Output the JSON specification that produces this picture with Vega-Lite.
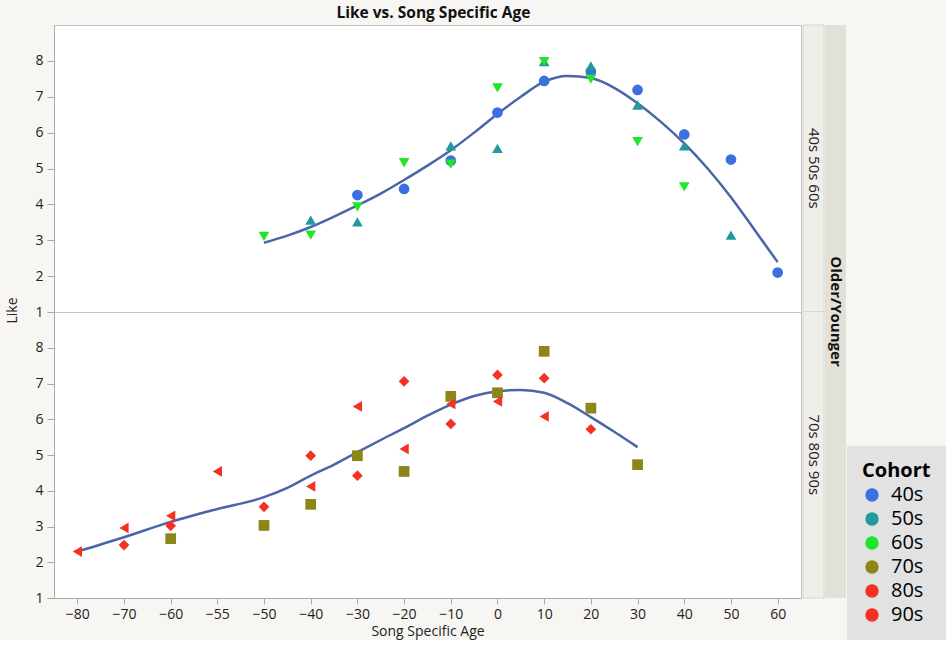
{
  "$schema": "https://vega.github.io/schema/vega-lite/v6.json",
  "background": "#f7f6f2",
  "padding": {"left": 5, "top": 6, "right": 0, "bottom": 0},
  "title": {"text": "Like vs. Song Specific Age", "fontSize": 15.5, "font": "Open Sans", "fontWeight": "bold", "color": "#111", "anchor": "start", "dx": 331, "offset": 3},
  "config": {
    "font": "Open Sans",
    "view": {"stroke": "#cccccc"},
    "axis": {"domainColor": "#a9a9a9", "tickColor": "#a9a9a9", "labelFontSize": 14, "labelColor": "#222", "titleFontSize": 14, "titleFontWeight": "normal", "titleColor": "#222", "grid": false, "tickSize": 6, "labelFont": "Open Sans", "titleFont": "Open Sans"}
  },
  "datasets": {
    "points": [
      {"group": "Older", "cohort": "40s", "age": -30, "like": 4.26},
      {"group": "Older", "cohort": "40s", "age": -20, "like": 4.43},
      {"group": "Older", "cohort": "40s", "age": -10, "like": 5.22},
      {"group": "Older", "cohort": "40s", "age": 0, "like": 6.56},
      {"group": "Older", "cohort": "40s", "age": 10, "like": 7.44},
      {"group": "Older", "cohort": "40s", "age": 20, "like": 7.70},
      {"group": "Older", "cohort": "40s", "age": 30, "like": 7.19},
      {"group": "Older", "cohort": "40s", "age": 40, "like": 5.95},
      {"group": "Older", "cohort": "40s", "age": 50, "like": 5.25},
      {"group": "Older", "cohort": "40s", "age": 60, "like": 2.10},
      {"group": "Older", "cohort": "50s", "age": -40, "like": 3.56},
      {"group": "Older", "cohort": "50s", "age": -30, "like": 3.51},
      {"group": "Older", "cohort": "50s", "age": -10, "like": 5.63},
      {"group": "Older", "cohort": "50s", "age": 0, "like": 5.56},
      {"group": "Older", "cohort": "50s", "age": 10, "like": 7.98},
      {"group": "Older", "cohort": "50s", "age": 20, "like": 7.86},
      {"group": "Older", "cohort": "50s", "age": 30, "like": 6.77},
      {"group": "Older", "cohort": "50s", "age": 40, "like": 5.63},
      {"group": "Older", "cohort": "50s", "age": 50, "like": 3.14},
      {"group": "Older", "cohort": "60s", "age": -50, "like": 3.11},
      {"group": "Older", "cohort": "60s", "age": -40, "like": 3.14},
      {"group": "Older", "cohort": "60s", "age": -30, "like": 3.93},
      {"group": "Older", "cohort": "60s", "age": -20, "like": 5.16},
      {"group": "Older", "cohort": "60s", "age": -10, "like": 5.12},
      {"group": "Older", "cohort": "60s", "age": 0, "like": 7.25},
      {"group": "Older", "cohort": "60s", "age": 10, "like": 7.98},
      {"group": "Older", "cohort": "60s", "age": 20, "like": 7.49},
      {"group": "Older", "cohort": "60s", "age": 30, "like": 5.75},
      {"group": "Older", "cohort": "60s", "age": 40, "like": 4.49},
      {"group": "Younger", "cohort": "70s", "age": -60, "like": 2.66},
      {"group": "Younger", "cohort": "70s", "age": -50, "like": 3.03},
      {"group": "Younger", "cohort": "70s", "age": -40, "like": 3.62},
      {"group": "Younger", "cohort": "70s", "age": -30, "like": 4.98},
      {"group": "Younger", "cohort": "70s", "age": -20, "like": 4.54},
      {"group": "Younger", "cohort": "70s", "age": -10, "like": 6.64},
      {"group": "Younger", "cohort": "70s", "age": 0, "like": 6.74},
      {"group": "Younger", "cohort": "70s", "age": 10, "like": 7.90},
      {"group": "Younger", "cohort": "70s", "age": 20, "like": 6.31},
      {"group": "Younger", "cohort": "70s", "age": 30, "like": 4.73},
      {"group": "Younger", "cohort": "80s", "age": -70, "like": 2.48},
      {"group": "Younger", "cohort": "80s", "age": -60, "like": 3.02},
      {"group": "Younger", "cohort": "80s", "age": -50, "like": 3.55},
      {"group": "Younger", "cohort": "80s", "age": -40, "like": 4.98},
      {"group": "Younger", "cohort": "80s", "age": -30, "like": 4.42},
      {"group": "Younger", "cohort": "80s", "age": -20, "like": 7.06},
      {"group": "Younger", "cohort": "80s", "age": -10, "like": 5.87},
      {"group": "Younger", "cohort": "80s", "age": 0, "like": 7.24},
      {"group": "Younger", "cohort": "80s", "age": 10, "like": 7.15},
      {"group": "Younger", "cohort": "80s", "age": 20, "like": 5.72},
      {"group": "Younger", "cohort": "90s", "age": -80, "like": 2.30},
      {"group": "Younger", "cohort": "90s", "age": -70, "like": 2.96},
      {"group": "Younger", "cohort": "90s", "age": -60, "like": 3.30},
      {"group": "Younger", "cohort": "90s", "age": -55, "like": 4.54},
      {"group": "Younger", "cohort": "90s", "age": -40, "like": 4.12},
      {"group": "Younger", "cohort": "90s", "age": -30, "like": 6.36},
      {"group": "Younger", "cohort": "90s", "age": -20, "like": 5.17},
      {"group": "Younger", "cohort": "90s", "age": -10, "like": 6.43},
      {"group": "Younger", "cohort": "90s", "age": 0, "like": 6.50},
      {"group": "Younger", "cohort": "90s", "age": 10, "like": 6.08}
    ],
    "curve": [
      {"group": "Older", "age": -50, "like": 2.93},
      {"group": "Older", "age": -45, "like": 3.13},
      {"group": "Older", "age": -40, "like": 3.37},
      {"group": "Older", "age": -35, "like": 3.66},
      {"group": "Older", "age": -30, "like": 3.97},
      {"group": "Older", "age": -25, "like": 4.30},
      {"group": "Older", "age": -20, "like": 4.68},
      {"group": "Older", "age": -15, "like": 5.08},
      {"group": "Older", "age": -10, "like": 5.51},
      {"group": "Older", "age": -5, "like": 6.00},
      {"group": "Older", "age": 0, "like": 6.52},
      {"group": "Older", "age": 5, "like": 7.00},
      {"group": "Older", "age": 10, "like": 7.42},
      {"group": "Older", "age": 15, "like": 7.58},
      {"group": "Older", "age": 20, "like": 7.52},
      {"group": "Older", "age": 25, "like": 7.25},
      {"group": "Older", "age": 30, "like": 6.82},
      {"group": "Older", "age": 35, "like": 6.30},
      {"group": "Older", "age": 40, "like": 5.70},
      {"group": "Older", "age": 45, "like": 5.00},
      {"group": "Older", "age": 50, "like": 4.20},
      {"group": "Older", "age": 55, "like": 3.30},
      {"group": "Older", "age": 60, "like": 2.39},
      {"group": "Younger", "age": -80, "like": 2.30},
      {"group": "Younger", "age": -70, "like": 2.70},
      {"group": "Younger", "age": -60, "like": 3.13},
      {"group": "Younger", "age": -55, "like": 3.49},
      {"group": "Younger", "age": -50, "like": 3.82},
      {"group": "Younger", "age": -45, "like": 4.08},
      {"group": "Younger", "age": -40, "like": 4.42},
      {"group": "Younger", "age": -35, "like": 4.73},
      {"group": "Younger", "age": -30, "like": 5.08},
      {"group": "Younger", "age": -25, "like": 5.42},
      {"group": "Younger", "age": -20, "like": 5.75},
      {"group": "Younger", "age": -15, "like": 6.10},
      {"group": "Younger", "age": -10, "like": 6.41},
      {"group": "Younger", "age": -5, "like": 6.65},
      {"group": "Younger", "age": 0, "like": 6.78},
      {"group": "Younger", "age": 5, "like": 6.82},
      {"group": "Younger", "age": 10, "like": 6.74},
      {"group": "Younger", "age": 15, "like": 6.45},
      {"group": "Younger", "age": 20, "like": 6.06},
      {"group": "Younger", "age": 25, "like": 5.65},
      {"group": "Younger", "age": 30, "like": 5.22}
    ]
  },
  "hconcat": [
    {
      "vconcat": [
        {
          "width": 747,
          "height": 287,
          "view": {"fill": "white", "stroke": "#c4c4c4"},
          "layer": [
            {
              "data": {"name": "curve"},
              "transform": [{"filter": "datum.group === 'Older'"}],
              "mark": {"type": "line", "color": "#4a66a8", "strokeWidth": 2.5, "interpolate": "monotone"},
              "encoding": {
                "x": {"field": "age", "type": "quantitative", "scale": {"domain": [-85, -60, -55, -50, 65], "range": [0, 116.67, 163.33, 210, 747], "nice": false, "zero": false}, "axis": null},
                "y": {"field": "like", "type": "quantitative", "scale": {"domain": [1, 9], "nice": false, "zero": false}, "axis": {"values": [1, 2, 3, 4, 5, 6, 7, 8], "title": "Like", "titleOpacity": 0, "labelPadding": 4, "titlePadding": 15, "tickSize": 7}}
              }
            },
            {
              "data": {"name": "points"},
              "transform": [{"filter": "datum.group === 'Older'"}],
              "mark": {"type": "point", "filled": true, "opacity": 1, "size": 115},
              "encoding": {
                "x": {"field": "age", "type": "quantitative"},
                "y": {"field": "like", "type": "quantitative"},
                "color": {"field": "cohort", "type": "nominal", "scale": {"domain": ["40s", "50s", "60s", "70s", "80s", "90s"], "range": ["#3c6fe0", "#22999c", "#1ee62a", "#8c8518", "#f53222", "#f53222"]}, "legend": {"orient": "none", "legendX": 793, "legendY": 421, "title": "Cohort", "titleFontSize": 20, "titleFontWeight": "bold", "titleColor": "#000", "titlePadding": 4, "labelFontSize": 20, "labelColor": "#000", "symbolType": "circle", "symbolSize": 180, "symbolStrokeWidth": 0, "fillColor": "#e2e2e2", "padding": 15, "rowPadding": 4, "labelOffset": 9}},
                "shape": {"field": "cohort", "type": "nominal", "scale": {"domain": ["90s", "80s", "70s", "60s", "50s", "40s"], "range": ["triangle-left", "diamond", "square", "triangle-down", "triangle-up", "circle"]}, "legend": null}
              }
            }
          ]
        },
        {
          "width": 747,
          "height": 286,
          "view": {"fill": "white", "stroke": "#c4c4c4"},
          "layer": [
            {
              "data": {"name": "curve"},
              "transform": [{"filter": "datum.group === 'Younger'"}],
              "mark": {"type": "line", "color": "#4a66a8", "strokeWidth": 2.5, "interpolate": "monotone"},
              "encoding": {
                "x": {"field": "age", "type": "quantitative", "scale": {"domain": [-85, -60, -55, -50, 65], "range": [0, 116.67, 163.33, 210, 747], "nice": false, "zero": false}, "axis": {"values": [-80, -70, -60, -55, -50, -40, -30, -20, -10, 0, 10, 20, 30, 40, 50, 60], "title": "Song Specific Age", "labelPadding": 3, "titlePadding": 3, "tickSize": 6}},
                "y": {"field": "like", "type": "quantitative", "scale": {"domain": [1, 9], "nice": false, "zero": false}, "axis": {"values": [1, 2, 3, 4, 5, 6, 7, 8], "title": "Like", "titleY": -2, "labelPadding": 4, "titlePadding": 15, "tickSize": 7}}
              }
            },
            {
              "data": {"name": "points"},
              "transform": [{"filter": "datum.group === 'Younger'"}],
              "mark": {"type": "point", "filled": true, "opacity": 1, "size": 115},
              "encoding": {
                "x": {"field": "age", "type": "quantitative"},
                "y": {"field": "like", "type": "quantitative"},
                "color": {"field": "cohort", "type": "nominal", "scale": {"domain": ["40s", "50s", "60s", "70s", "80s", "90s"], "range": ["#3c6fe0", "#22999c", "#1ee62a", "#8c8518", "#f53222", "#f53222"]}},
                "shape": {"field": "cohort", "type": "nominal", "scale": {"domain": ["90s", "80s", "70s", "60s", "50s", "40s"], "range": ["triangle-left", "diamond", "square", "triangle-down", "triangle-up", "circle"]}, "legend": null}
              }
            }
          ]
        }
      ],
      "spacing": 0,
      "bounds": "flush"
    },
    {
      "width": 21,
      "height": 573,
      "data": {"values": [{"label": "40s 50s 60s"}, {"label": "70s 80s 90s"}]},
      "view": {"stroke": null},
      "layer": [
        {
          "mark": {"type": "rect", "fill": "#efeee8", "stroke": "#d6d6cf", "strokeWidth": 1},
          "encoding": {"y": {"field": "label", "type": "nominal", "scale": {"paddingInner": 0, "paddingOuter": 0}, "axis": null}}
        },
        {
          "mark": {"type": "text", "angle": 90, "fontSize": 15, "color": "#222"},
          "encoding": {"y": {"field": "label", "type": "nominal", "axis": null}, "text": {"field": "label"}}
        }
      ]
    },
    {
      "width": 21,
      "height": 573,
      "data": {"values": [{"title": "Older/Younger"}]},
      "view": {"fill": "#e2e1d8", "stroke": null},
      "mark": {"type": "text", "angle": 90, "fontSize": 15, "fontWeight": "bold", "color": "#111"},
      "encoding": {"text": {"field": "title"}}
    }
  ],
  "spacing": 0,
  "resolve": {"scale": {"color": "shared", "shape": "shared"}}
}
